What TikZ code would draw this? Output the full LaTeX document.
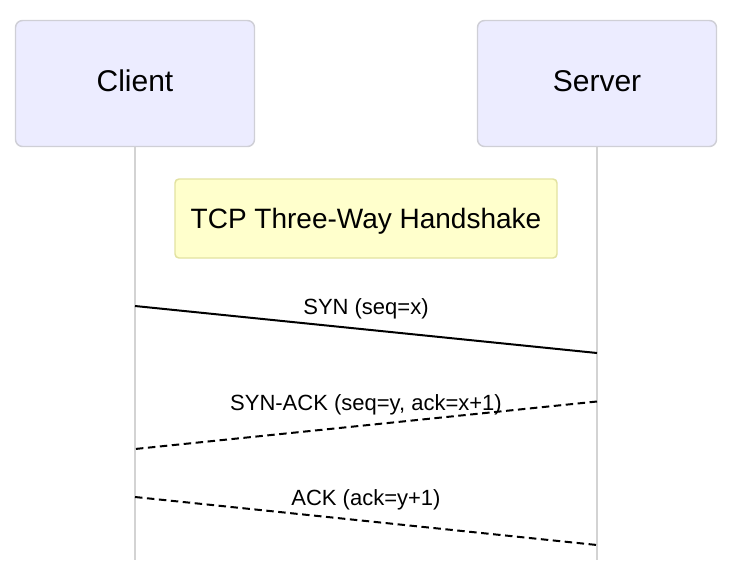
\documentclass[tikz,border=0pt]{standalone}
\usepackage{fontspec}
\setmainfont{Liberation Sans}
\usepackage{xcolor}
\usepackage{tikz}
\usetikzlibrary{calc}
\usetikzlibrary{shapes.geometric, positioning}

\definecolor{actorfill}{HTML}{ECECFF}
\definecolor{actorline}{HTML}{CFCFD6}
\definecolor{notefill}{HTML}{FFFFCC}
\definecolor{noteline}{HTML}{E2E2A0}
\definecolor{lifeline}{HTML}{D3D3D3}

\begin{document}
\begin{tikzpicture}[x=0.75pt, y=-0.75pt,
    actor/.style={draw=actorline, fill=actorfill, line width=1.1pt, rounded corners=5.25pt,
      minimum width=179.25pt, minimum height=94.5pt, text height=16.4pt, text depth=5pt,
      font=\fontsize{22.5}{27}\selectfont},
    note/.style={draw=noteline, fill=notefill, line width=1.1pt, rounded corners=3pt,
      minimum width=286.5pt, minimum height=59.25pt, text height=15.3pt, text depth=0pt,
      font=\fontsize{21}{25}\selectfont},
    msg/.style={anchor=base, inner sep=0pt, font=\fontsize{16.5}{20}\selectfont},
    life/.style={draw=lifeline, line width=1.5pt},
    call/.style={draw=black, line width=1.5pt},
    reply/.style={call, dash pattern=on 5.6pt off 3.4pt}]
    %\draw[step=50, gray, very thin] (0, 0) grid (729, 572);
    \useasboundingbox (0, 0) rectangle (729, 572);

    \node[actor] (client) at (135, 83.5) {Client};
    \node[actor] (server) at (597, 83.5) {Server};

    \coordinate (clientend) at (135, 560);
    \coordinate (serverend) at (597, 560);

    \draw[life] (client.south) -- (clientend);
    \draw[life] (server.south) -- (serverend);

    \node[note] (handshake) at (366, 218.5) {TCP Three-Way Handshake};

    \coordinate (syn1) at (135, 306);
    \coordinate (syn2) at (597, 353);
    \coordinate (synack1) at (597, 401.5);
    \coordinate (synack2) at (135, 449);
    \coordinate (ack1) at (135, 497);
    \coordinate (ack2) at (597, 545);

    \draw[call] (syn1) -- (syn2);
    \draw[reply] (synack1) -- (synack2);
    \draw[reply] (ack1) -- (ack2);

    \node[msg] (synlabel) at (366, 314) {SYN (seq=x)};
    \node[msg] (synacklabel) at (366, 410) {SYN-ACK (seq=y, ack=x+1)};
    \node[msg] (acklabel) at (366, 505) {ACK (ack=y+1)};

  \end{tikzpicture}
\end{document}
